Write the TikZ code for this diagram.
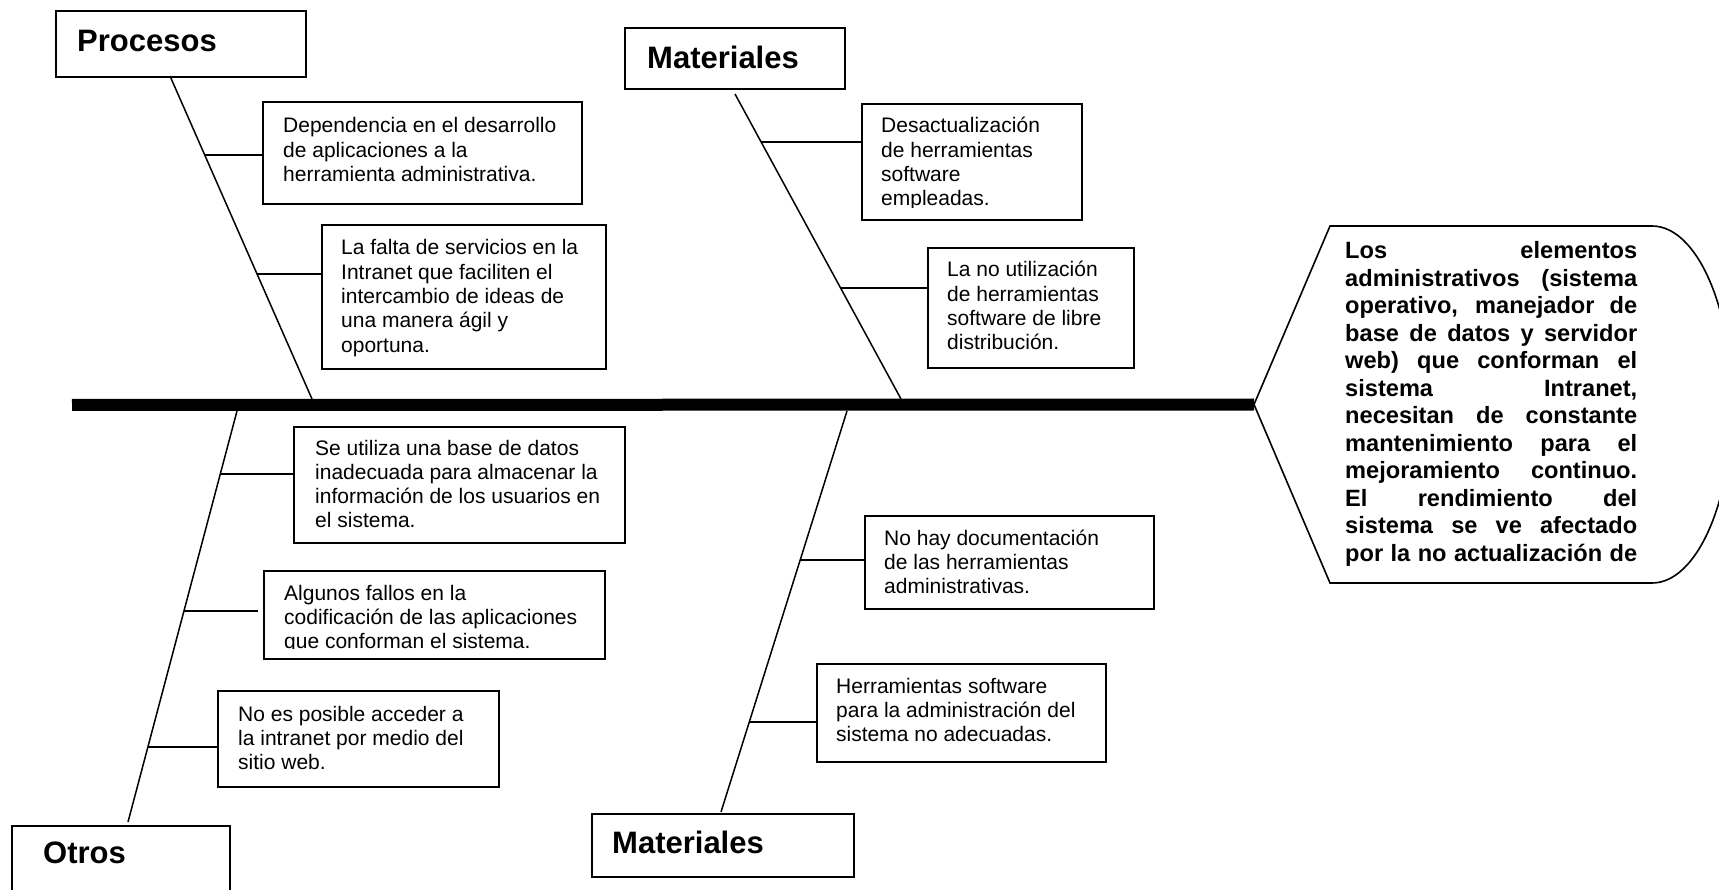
\documentclass[tikz,border=0pt]{standalone}
\usepackage{fontspec}
\setmainfont{Liberation Sans}
\usetikzlibrary{calc}

% text styles
\newcommand{\bodyfont}{\fontsize{21}{24.3}\selectfont}
\newcommand{\headfont}{\fontsize{31}{36}\selectfont\bfseries}
\newcommand{\effectfont}{\fontsize{23.6}{27.5}\selectfont\bfseries}
\newcommand{\causelines}[1]{\parbox[t]{360pt}{\raggedright #1}}
\newcommand{\jline}[1]{\makebox[292pt][s]{#1}}

\begin{document}
\begin{tikzpicture}[x=1pt,y=-1pt,
  frame/.style={draw, line width=1.6pt, rectangle, anchor=north west, inner sep=0pt},
  causetext/.style={anchor=base west, inner sep=0pt, font=\bodyfont},
  headtext/.style={anchor=base west, inner sep=0pt, font=\headfont},
  bone/.style={line width=1.5pt},
  twig/.style={line width=1.5pt},
  spine/.style={line width=12pt}]

\useasboundingbox (0,0) rectangle (1719,890);

% ---------- category boxes ----------
\node[frame, minimum width=250pt, minimum height=66pt] (procesos) at (55,10) {};
\node[headtext] (procesosT) at (77,52) {Procesos};

\node[frame, minimum width=220pt, minimum height=61pt] (matTop) at (624,27) {};
\node[headtext] (matTopT) at (647,69) {Materiales};

\node[frame, minimum width=218pt, minimum height=120pt] (otros) at (11,825) {};
\node[headtext] (otrosT) at (43,863) {Otros};

\node[frame, minimum width=262pt, minimum height=63pt] (matBot) at (591,813) {};
\node[headtext] (matBotT) at (612,853) {Materiales};

% ---------- cause boxes ----------
\node[frame, minimum width=319pt, minimum height=102pt] (cA) at (262,101) {};
\node[causetext] (cAT) at (283,133) {\causelines{Dependencia en el desarrollo\\de aplicaciones a la\\herramienta administrativa.}};

\node[frame, minimum width=284pt, minimum height=144pt] (cB) at (321,224) {};
\node[causetext] (cBT) at (341,255) {\causelines{La falta de servicios en la\\Intranet que faciliten el\\intercambio de ideas de\\una manera ágil y\\oportuna.}};

\node[frame, minimum width=220pt, minimum height=116pt] (cC) at (861,103) {};
\begin{scope}
  \clip (861,103) rectangle (1081,207.5);
  \node[causetext] (cCT) at (881,133) {\causelines{Desactualización\\de herramientas\\software\\empleadas.}};
\end{scope}

\node[frame, minimum width=206pt, minimum height=120pt] (cD) at (927,247) {};
\node[causetext] (cDT) at (947,277) {\causelines{La no utilización\\de herramientas\\software de libre\\distribución.}};

\node[frame, minimum width=331pt, minimum height=116pt] (cE) at (293,426) {};
\node[causetext] (cET) at (315,455) {\causelines{Se utiliza una base de datos\\inadecuada para almacenar la\\información de los usuarios en\\el sistema.}};

\node[frame, minimum width=341pt, minimum height=88pt] (cF) at (263,570) {};
\begin{scope}
  \clip (263,570) rectangle (604,648);
  \node[causetext] (cFT) at (284,600) {\causelines{Algunos fallos en la\\codificación de las aplicaciones\\que conforman el sistema.}};
\end{scope}

\node[frame, minimum width=281pt, minimum height=96pt] (cG) at (217,690) {};
\node[causetext] (cGT) at (238,721) {\causelines{No es posible acceder a\\la intranet por medio del\\sitio web.}};

\node[frame, minimum width=289pt, minimum height=93pt] (cH) at (864,515) {};
\node[causetext] (cHT) at (884,545) {\causelines{No hay documentación\\de las herramientas\\administrativas.}};

\node[frame, minimum width=289pt, minimum height=98pt] (cI) at (816,663) {};
\node[causetext] (cIT) at (836,693) {\causelines{Herramientas software\\para la administración del\\sistema no adecuadas.}};

% ---------- effect (head) ----------
\coordinate (head) at (1254,404.5);
\coordinate (tail) at (72,405);
\draw[line width=1.6pt, line join=miter] (head) -- (1330,226) -- (1652,226)
  arc[start angle=-90, end angle=90, x radius=80, y radius=178.5]
  -- (1330,583) -- cycle;
\node[anchor=base west, inner sep=0pt, font=\effectfont] (effect) at (1345,259) {\parbox[t]{292pt}{%
\jline{Los elementos}\\
\jline{administrativos (sistema}\\
\jline{operativo, manejador de}\\
\jline{base de datos y servidor}\\
\jline{web) que conforman el}\\
\jline{sistema Intranet,}\\
\jline{necesitan de constante}\\
\jline{mantenimiento para el}\\
\jline{mejoramiento continuo.}\\
\jline{El rendimiento del}\\
\jline{sistema se ve afectado}\\
\jline{por la no actualización de}}};

% ---------- spine ----------
\draw[spine] (tail) -- (head);

% ---------- bones ----------
\coordinate (pA) at (170,76);   \coordinate (pB) at (312,399);
\coordinate (mA) at (735,94);   \coordinate (mB) at (901,399);
\coordinate (oA) at (237,411);  \coordinate (oB) at (128,822);
\coordinate (nA) at (847,411);  \coordinate (nB) at (721,812);
\draw[bone] (pA) -- (pB);
\draw[bone] (mA) -- (mB);
\draw[bone] (oA) -- (oB);
\draw[bone] (nA) -- (nB);

% ---------- twigs from bones to cause boxes ----------
\coordinate (kA) at ($(pA)!0.2446!(pB)$);
\coordinate (kB) at ($(pA)!0.613!(pB)$);
\coordinate (kC) at ($(mA)!0.157!(mB)$);
\coordinate (kD) at ($(mA)!0.636!(mB)$);
\coordinate (kE) at ($(oA)!0.153!(oB)$);
\coordinate (kF) at ($(oA)!0.487!(oB)$);
\coordinate (kG) at ($(oA)!0.818!(oB)$);
\coordinate (kH) at ($(nA)!0.372!(nB)$);
\coordinate (kI) at ($(nA)!0.776!(nB)$);
\draw[twig] (kA) -- (kA -| cA.west);
\draw[twig] (kB) -- (kB -| cB.west);
\draw[twig] (kC) -- (kC -| cC.west);
\draw[twig] (kD) -- (kD -| cD.west);
\draw[twig] (kE) -- (kE -| cE.west);
\draw[twig] (kF) -- ([xshift=-5pt]kF -| cF.west);
\draw[twig] (kG) -- (kG -| cG.west);
\draw[twig] (kH) -- (kH -| cH.west);
\draw[twig] (kI) -- (kI -| cI.west);
\end{tikzpicture}
\end{document}
